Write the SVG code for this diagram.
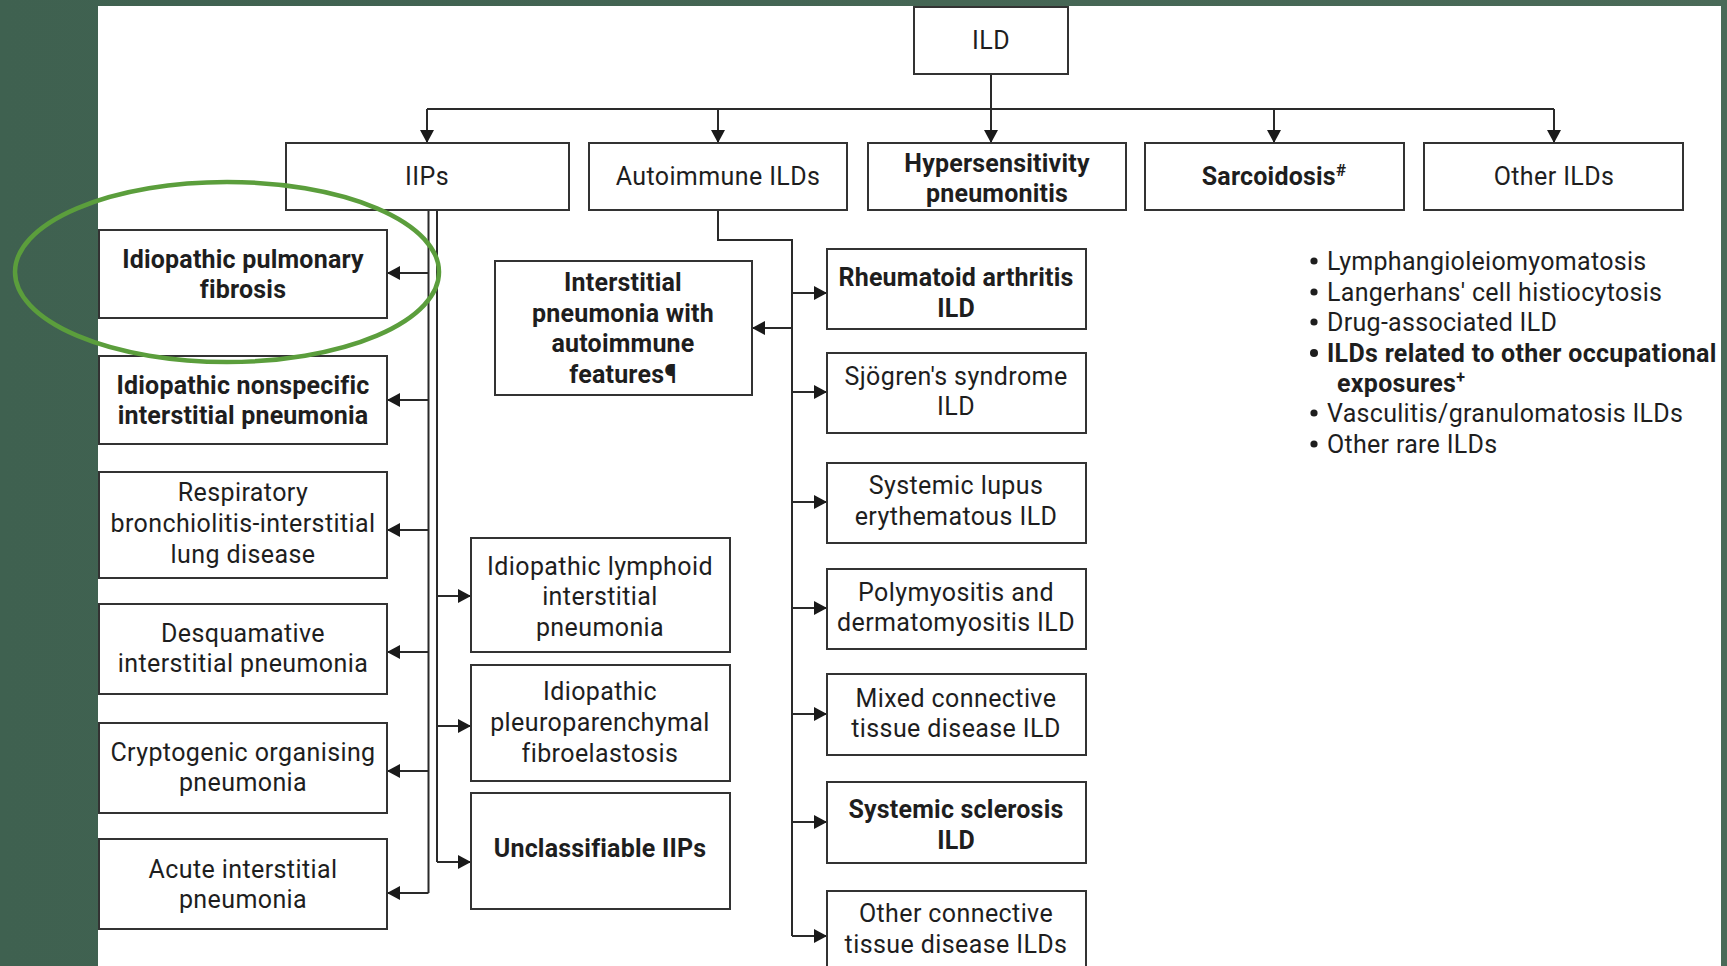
<svg xmlns="http://www.w3.org/2000/svg" width="1727" height="966" viewBox="0 0 1727 966">
<defs>
<linearGradient id="bg" x1="0" y1="0" x2="1" y2="0">
<stop offset="0" stop-color="#3f6150"/>
<stop offset="1" stop-color="#4a6a58"/>
</linearGradient>
<marker id="ah" viewBox="0 0 13 14" refX="13" refY="7" markerWidth="13" markerHeight="14" markerUnits="userSpaceOnUse" orient="auto">
<path d="M0,0 L13,7 L0,14 Z" fill="#1a1a1a"/>
</marker>
</defs>
<style>
.box{fill:#fff;stroke:#333;stroke-width:2}
.t{font-family:Roboto,"Liberation Sans",sans-serif;font-size:25px;fill:#1e1e1e;text-anchor:middle;letter-spacing:0.4px}
.b{font-weight:bold;letter-spacing:0.2px}
.l{font-family:Roboto,"Liberation Sans",sans-serif;font-size:25px;fill:#1e1e1e;letter-spacing:0.3px}
.d{fill:#1e1e1e}
.c{fill:none;stroke:#2a2a2a;stroke-width:2}
.a{fill:none;stroke:#2a2a2a;stroke-width:2;marker-end:url(#ah)}
</style>
<rect x="0" y="0" width="1727" height="966" fill="url(#bg)"/>
<rect x="98" y="6" width="1623" height="960" fill="#fff"/>

<g id="connectors">
<path class="c" d="M991,74 V109"/>
<path class="c" d="M427,109 H1554"/>
<path class="a" d="M427,109 V143"/>
<path class="a" d="M718,109 V143"/>
<path class="a" d="M991,109 V143"/>
<path class="a" d="M1274,109 V143"/>
<path class="a" d="M1554,109 V143"/>
<path class="c" d="M428.5,210 V893"/>
<path class="a" d="M428.5,273 H387"/>
<path class="a" d="M428.5,400 H387"/>
<path class="a" d="M428.5,530 H387"/>
<path class="a" d="M428.5,652 H387"/>
<path class="a" d="M428.5,771 H387"/>
<path class="a" d="M428.5,893 H387"/>
<path class="c" d="M437,210 V862"/>
<path class="a" d="M437,596 H471"/>
<path class="a" d="M437,726 H471"/>
<path class="a" d="M437,862 H471"/>
<path class="c" d="M718,210 V240 H792 V936"/>
<path class="a" d="M792,328 H752"/>
<path class="a" d="M792,293 H827"/>
<path class="a" d="M792,392 H827"/>
<path class="a" d="M792,502 H827"/>
<path class="a" d="M792,608 H827"/>
<path class="a" d="M792,714 H827"/>
<path class="a" d="M792,822 H827"/>
<path class="a" d="M792,936 H827"/>
</g>

<g id="n-ild"><rect class="box" x="914" y="7" width="154" height="67"/><text class="t" x="991" y="49">ILD</text></g>
<g id="n-iips"><rect class="box" x="286" y="143" width="283" height="67"/><text class="t" x="427" y="185">IIPs</text></g>
<g id="n-autoimmune"><rect class="box" x="589" y="143" width="258" height="67"/><text class="t" x="718" y="185">Autoimmune ILDs</text></g>
<g id="n-hp"><rect class="box" x="868" y="143" width="258" height="67"/><text class="t b" x="997" y="172">Hypersensitivity</text><text class="t b" x="997" y="202">pneumonitis</text></g>
<g id="n-sarc"><rect class="box" x="1145" y="143" width="259" height="67"/><text class="t b" x="1274" y="185">Sarcoidosis<tspan font-size="17" dy="-9">#</tspan></text></g>
<g id="n-other"><rect class="box" x="1424" y="143" width="259" height="67"/><text class="t" x="1554" y="185">Other ILDs</text></g>

<g id="n-ipf"><rect class="box" x="99" y="230" width="288" height="88"/><text class="t b" x="243" y="268">Idiopathic pulmonary</text><text class="t b" x="243" y="298">fibrosis</text></g>
<g id="n-insip"><rect class="box" x="99" y="356" width="288" height="88"/><text class="t b" x="243" y="394">Idiopathic nonspecific</text><text class="t b" x="243" y="424">interstitial pneumonia</text></g>
<g id="n-rbild"><rect class="box" x="99" y="472" width="288" height="106"/><text class="t" x="243" y="501">Respiratory</text><text class="t" x="243" y="532">bronchiolitis-interstitial</text><text class="t" x="243" y="563">lung disease</text></g>
<g id="n-dip"><rect class="box" x="99" y="604" width="288" height="90"/><text class="t" x="243" y="642">Desquamative</text><text class="t" x="243" y="672">interstitial pneumonia</text></g>
<g id="n-cop"><rect class="box" x="99" y="723" width="288" height="90"/><text class="t" x="243" y="761">Cryptogenic organising</text><text class="t" x="243" y="791">pneumonia</text></g>
<g id="n-aip"><rect class="box" x="99" y="839" width="288" height="90"/><text class="t" x="243" y="878">Acute interstitial</text><text class="t" x="243" y="908">pneumonia</text></g>

<g id="n-lip"><rect class="box" x="471" y="538" width="259" height="114"/><text class="t" x="600" y="575">Idiopathic lymphoid</text><text class="t" x="600" y="605">interstitial</text><text class="t" x="600" y="636">pneumonia</text></g>
<g id="n-ppfe"><rect class="box" x="471" y="665" width="259" height="116"/><text class="t" x="600" y="700">Idiopathic</text><text class="t" x="600" y="731">pleuroparenchymal</text><text class="t" x="600" y="762">fibroelastosis</text></g>
<g id="n-unclass"><rect class="box" x="471" y="793" width="259" height="116"/><text class="t b" x="600" y="857">Unclassifiable IIPs</text></g>

<g id="n-ipaf"><rect class="box" x="495" y="261" width="257" height="134"/><text class="t b" x="623" y="291">Interstitial</text><text class="t b" x="623" y="322">pneumonia with</text><text class="t b" x="623" y="352">autoimmune</text><text class="t b" x="623" y="383">features¶</text></g>

<g id="n-ra"><rect class="box" x="827" y="249" width="259" height="80"/><text class="t b" x="956" y="286">Rheumatoid arthritis</text><text class="t b" x="956" y="317">ILD</text></g>
<g id="n-sjogren"><rect class="box" x="827" y="353" width="259" height="80"/><text class="t" x="956" y="385">Sjögren's syndrome</text><text class="t" x="956" y="415">ILD</text></g>
<g id="n-sle"><rect class="box" x="827" y="463" width="259" height="80"/><text class="t" x="956" y="494">Systemic lupus</text><text class="t" x="956" y="525">erythematous ILD</text></g>
<g id="n-pmdm"><rect class="box" x="827" y="569" width="259" height="80"/><text class="t" x="956" y="601">Polymyositis and</text><text class="t" x="956" y="631">dermatomyositis ILD</text></g>
<g id="n-mctd"><rect class="box" x="827" y="674" width="259" height="81"/><text class="t" x="956" y="707">Mixed connective</text><text class="t" x="956" y="737">tissue disease ILD</text></g>
<g id="n-ssc"><rect class="box" x="827" y="782" width="259" height="81"/><text class="t b" x="956" y="818">Systemic sclerosis</text><text class="t b" x="956" y="849">ILD</text></g>
<g id="n-octd"><rect class="box" x="827" y="891" width="259" height="90"/><text class="t" x="956" y="922">Other connective</text><text class="t" x="956" y="953">tissue disease ILDs</text></g>

<g id="n-other-list">
<circle class="d" cx="1314" cy="261" r="3.6"/>
<circle class="d" cx="1314" cy="292" r="3.6"/>
<circle class="d" cx="1314" cy="322" r="3.6"/>
<circle class="d" cx="1314" cy="353" r="4"/>
<circle class="d" cx="1314" cy="413" r="3.6"/>
<circle class="d" cx="1314" cy="444" r="3.6"/>
<text class="l" x="1327" y="270">Lymphangioleiomyomatosis</text>
<text class="l" x="1327" y="301">Langerhans' cell histiocytosis</text>
<text class="l" x="1327" y="331">Drug-associated ILD</text>
<text class="l" x="1327" y="362" font-weight="bold">ILDs related to other occupational</text>
<text class="l" x="1337" y="392" font-weight="bold">exposures<tspan font-size="16" dy="-9">+</tspan></text>
<text class="l" x="1327" y="422">Vasculitis/granulomatosis ILDs</text>
<text class="l" x="1327" y="453">Other rare ILDs</text>
</g>

<ellipse id="highlight" cx="227" cy="272" rx="212" ry="90" fill="none" stroke="#5b9e3c" stroke-width="4.5"/>
</svg>
